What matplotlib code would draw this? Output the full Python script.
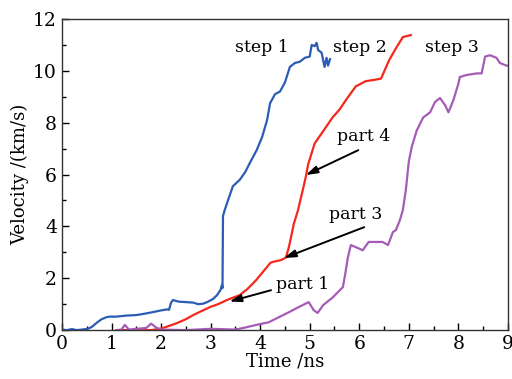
import matplotlib
matplotlib.use("Agg")
import matplotlib.pyplot as plt
from matplotlib.ticker import MultipleLocator

# step 1 (blue)
t_step1 = [0, 0.1, 0.2, 0.3, 0.4, 0.52, 0.6, 0.7, 0.8, 0.9, 0.97, 1.1, 1.3, 1.5,
           1.63, 1.8, 2.0, 2.12, 2.16, 2.2, 2.24, 2.35, 2.5, 2.65, 2.75, 2.85,
           2.93, 3.05, 3.13, 3.2, 3.23, 3.24, 3.25, 3.28, 3.35, 3.45, 3.59, 3.7,
           3.79, 3.93, 4.04, 4.14, 4.2, 4.3, 4.4, 4.5, 4.6, 4.7, 4.8, 4.9, 5.0,
           5.04, 5.1, 5.14, 5.17, 5.24, 5.3, 5.34, 5.37, 5.41]
v_step1 = [0.02, 0.0, 0.04, 0.0, 0.02, 0.05, 0.12, 0.28, 0.42, 0.5, 0.52, 0.52,
           0.56, 0.58, 0.62, 0.68, 0.76, 0.8, 0.78, 1.05, 1.16, 1.1, 1.08, 1.06,
           1.0, 1.02, 1.08, 1.2, 1.35, 1.55, 1.74, 1.62, 4.4, 4.6, 5.0, 5.55,
           5.8, 6.1, 6.44, 6.94, 7.45, 8.1, 8.75, 9.1, 9.2, 9.55, 10.15, 10.3,
           10.35, 10.5, 10.55, 11.0, 10.95, 11.08, 10.8, 10.7, 10.15, 10.5, 10.2,
           10.45]

# step 2 (red)
t_step2 = [1.1, 1.5, 1.8, 1.98, 2.1, 2.32, 2.5, 2.65, 2.8, 2.99, 3.15, 3.33,
           3.45, 3.59, 3.75, 3.92, 4.08, 4.21, 4.3, 4.42, 4.52, 4.58, 4.68,
           4.76, 4.86, 4.92, 4.97, 5.1, 5.3, 5.46, 5.6, 5.73, 5.93, 6.13, 6.3,
           6.44, 6.6, 6.75, 6.88, 7.04]
v_step2 = [0, 0, 0, 0.05, 0.12, 0.27, 0.42, 0.58, 0.72, 0.89, 1.0, 1.16, 1.25,
           1.35, 1.6, 1.93, 2.3, 2.6, 2.65, 2.7, 2.8, 3.2, 4.1, 4.6, 5.4, 5.9,
           6.4, 7.2, 7.75, 8.2, 8.5, 8.87, 9.4, 9.6, 9.65, 9.7, 10.4, 10.9,
           11.3, 11.38]

# step 3 (purple)
t_step3 = [1.1, 1.2, 1.27, 1.35, 1.5, 1.7, 1.8, 1.9, 2.0, 2.5, 3.0, 3.5, 3.7,
           3.92, 4.17, 4.38, 4.58, 4.78, 4.98, 5.08, 5.16, 5.27, 5.47, 5.67,
           5.72, 5.77, 5.83, 5.93, 6.07, 6.19, 6.34, 6.47, 6.58, 6.68, 6.74,
           6.82, 6.88, 6.94, 7.0, 7.06, 7.16, 7.29, 7.43, 7.53, 7.63, 7.73, 7.8,
           7.9, 8.0, 8.03, 8.17, 8.37, 8.47, 8.54, 8.64, 8.77, 8.84, 8.97, 9.0]
v_step3 = [0, 0.02, 0.2, 0.02, 0.05, 0.08, 0.25, 0.1, 0.02, 0.0, 0.05, 0.02,
           0.1, 0.2, 0.3, 0.5, 0.69, 0.89, 1.08, 0.77, 0.66, 0.96, 1.27, 1.66,
           2.2, 2.8, 3.28, 3.2, 3.08, 3.4, 3.4, 3.4, 3.28, 3.78, 3.86, 4.24,
           4.63, 5.4, 6.5, 7.07, 7.7, 8.2, 8.4, 8.8, 8.95, 8.68, 8.4, 8.87, 9.5,
           9.76, 9.84, 9.9, 9.9, 10.55, 10.6, 10.5, 10.3, 10.2, 10.2]

# labels: (text, x, y)
step_labels = [("step 1", 4.04, 10.9), ("step 2", 6.01, 10.9), ("step 3", 7.87, 10.9)]
# annotations: (text, text x, text y, arrow tip x, arrow tip y)
part_labels = [("part 1", 4.86, 1.74, 3.38, 1.1),
               ("part 3", 5.93, 4.44, 4.48, 2.78),
               ("part 4", 6.09, 7.45, 4.92, 5.98)]
part_tails = [(4.22, 1.54), (6.1, 3.97), (5.98, 6.94)]

plt.rcParams['font.family'] = ['DejaVu Serif']
plt.rcParams['mathtext.fontset'] = 'dejavuserif'

fig = plt.figure(figsize=(5.12, 3.79), dpi=100)
ax = fig.add_axes([0.121, 0.129, 0.871, 0.821])

ax.plot(t_step1, v_step1, color="#2c5cb5", lw=1.6)
ax.plot(t_step2, v_step2, color="#f5281c", lw=1.6)
ax.plot(t_step3, v_step3, color="#a55cb6", lw=1.6)

for txt, x, y in step_labels:
    ax.text(x, y, txt, ha="center", va="center", fontsize=12.5)

for (txt, tx, ty, hx, hy), (ax0, ay0) in zip(part_labels, part_tails):
    ax.text(tx, ty, txt, ha="center", va="center", fontsize=12.5)
    ax.annotate("", xy=(hx, hy), xytext=(ax0, ay0),
                arrowprops=dict(arrowstyle="-|>,head_length=0.7,head_width=0.22",
                                color="black", lw=1.4, shrinkA=0, shrinkB=0))

ax.set_xlim(0, 9)
ax.set_ylim(0, 12)
ax.xaxis.set_major_locator(MultipleLocator(1))
ax.xaxis.set_minor_locator(MultipleLocator(0.5))
ax.yaxis.set_major_locator(MultipleLocator(2))
ax.yaxis.set_minor_locator(MultipleLocator(1))
ax.tick_params(which="both", direction="in", top=False, right=False,
               labelsize=13.5, width=1)
ax.tick_params(which="major", length=5)
ax.tick_params(which="minor", length=3)
for s in ax.spines.values():
    s.set_linewidth(1.0)
    s.set_color("#333333")

ax.set_xlabel("Time /ns", fontsize=13, labelpad=0)
ax.set_ylabel("Velocity /(km/s)", fontsize=13, labelpad=3)

fig.savefig("out.png", dpi=100)
